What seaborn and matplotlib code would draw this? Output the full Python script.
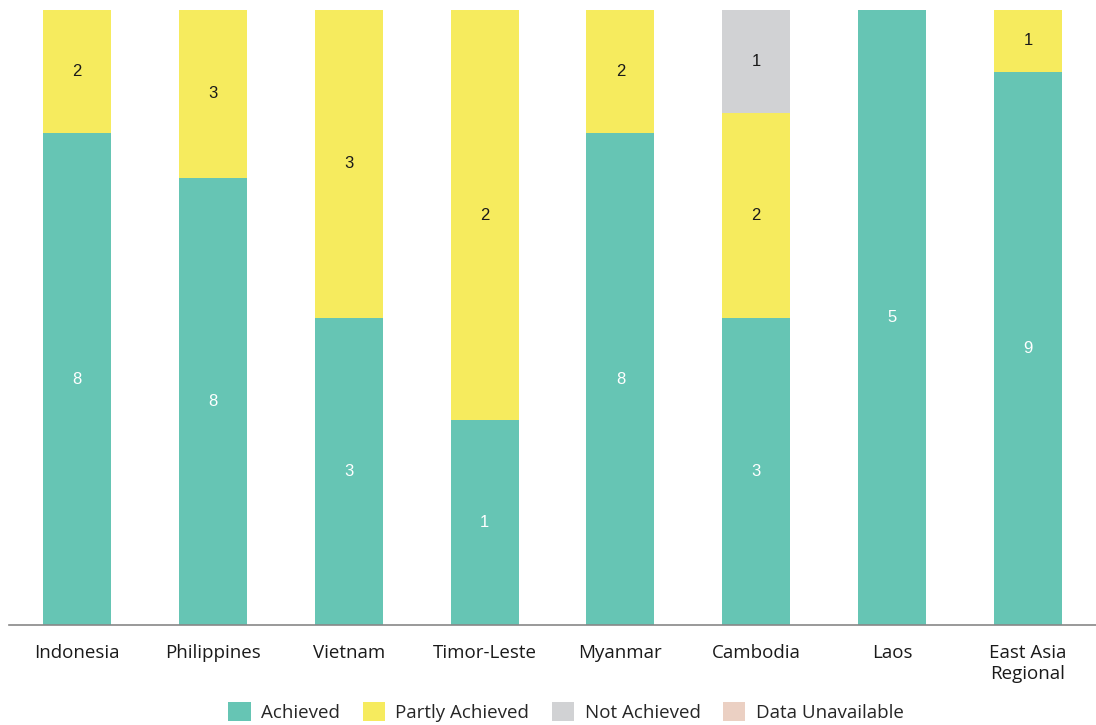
import matplotlib
matplotlib.use("Agg")
import matplotlib.pyplot as plt
import seaborn as sns
import numpy as np
import pandas as pd
from matplotlib.patches import Patch

countries = ["Indonesia", "Philippines", "Vietnam", "Timor-Leste", "Myanmar",
             "Cambodia", "Laos", "East Asia\nRegional"]
achieved = [8, 8, 3, 1, 8, 3, 5, 9]
partly = [2, 3, 3, 2, 2, 2, 0, 1]
not_achieved = [0, 0, 0, 0, 0, 1, 0, 0]
unavailable = [0, 0, 0, 0, 0, 0, 0, 0]

series_names = ["Achieved", "Partly Achieved", "Not Achieved", "Data Unavailable"]
series_vals = [achieved, partly, not_achieved, unavailable]
colors = ["#66C5B4", "#F6EB5E", "#D1D2D4", "#EBD0C3"]
text_colors = ["white", "#1a1a1a", "#1a1a1a", "#1a1a1a"]

sns.set_theme(style="white")
plt.rcParams["font.family"] = ["Open Sans", "DejaVu Sans"]

fig = plt.figure(figsize=(10.96, 7.25), dpi=100)
ax = fig.add_axes([9 / 1096, 100 / 725, 1 - 9 / 1096, 615 / 725])

totals = np.sum(np.array(series_vals), axis=0)
bottom = np.zeros(len(countries))
for name, vals, col, tc in zip(series_names, series_vals, colors, text_colors):
    pct = np.array(vals) / totals * 100
    df = pd.DataFrame({"country": countries, "pct": pct})
    sns.barplot(data=df, x="country", y="pct", color=col, bottom=bottom,
                width=0.5, ax=ax, saturation=1, linewidth=0)
    for i, (v, p) in enumerate(zip(vals, pct)):
        if v > 0:
            ax.text(i, bottom[i] + p / 2, str(v), ha="center", va="center",
                    color=tc, fontsize=12, family=["Liberation Sans", "DejaVu Sans"])
    bottom = bottom + pct

ax.set_xlim(-0.5, 7.5)
ax.set_ylim(0, 100)
ax.set_xlabel("")
ax.set_ylabel("")
ax.set_yticks([])
for s in ["top", "right", "left"]:
    ax.spines[s].set_visible(False)
ax.spines["bottom"].set_color("#888888")
ax.spines["bottom"].set_linewidth(1.2)
ax.tick_params(axis="x", length=0, pad=14, labelsize=13.5, colors="#1a1a1a")

handles = [Patch(facecolor=c, edgecolor="none", label=n) for n, c in zip(series_names, colors)]
fig.legend(handles=handles, loc="center", bbox_to_anchor=(566 / 1096, 1 - 712 / 725),
           ncol=4, frameon=False, fontsize=13.5, handlelength=1.2, handleheight=1.2,
           handletextpad=0.55, columnspacing=1.2)

fig.savefig("out.png", dpi=100)
